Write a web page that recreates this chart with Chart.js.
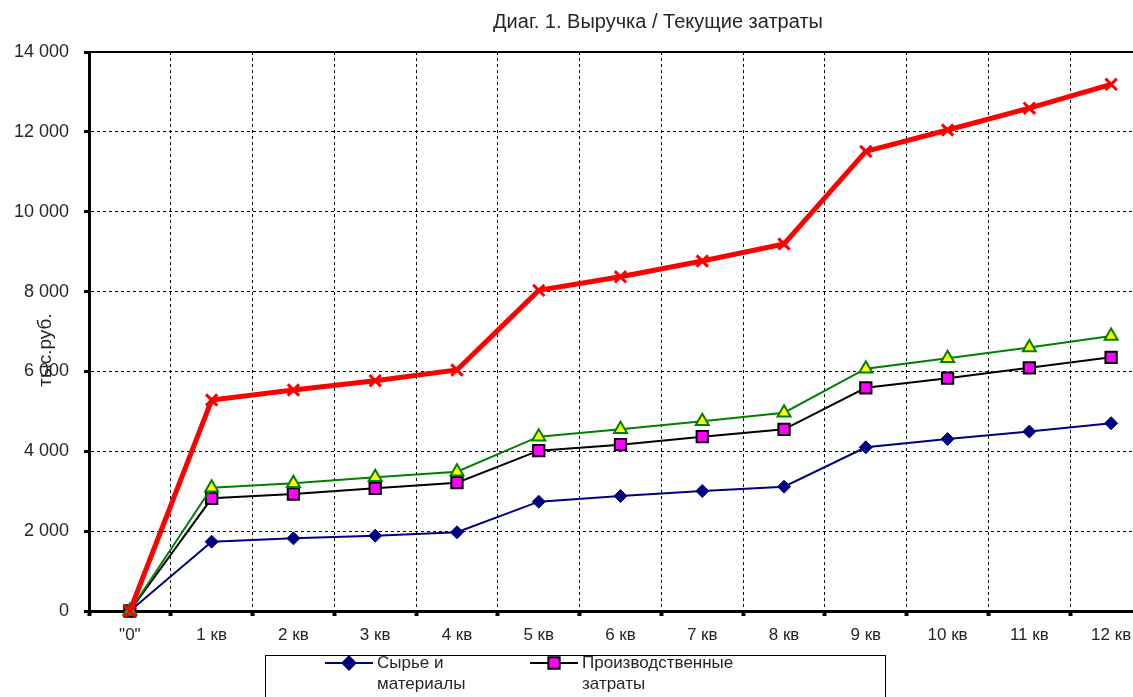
<!DOCTYPE html>
<html lang="ru">
<head>
<meta charset="utf-8">
<title>Диаг. 1. Выручка / Текущие затраты</title>
<script src="https://cdn.jsdelivr.net/npm/chart.js@4.4.1/dist/chart.umd.min.js"></script>
<style>
  html, body { margin: 0; padding: 0; background: #fff; overflow: hidden; }
  #wrap { position: relative; width: 1180px; height: 697px; }
</style>
</head>
<body>
<div id="wrap"><canvas id="chart" width="1180" height="697"></canvas></div>
<script>
// Quarters on the horizontal axis
const categories = ['"0"', '1 кв', '2 кв', '3 кв', '4 кв', '5 кв', '6 кв', '7 кв', '8 кв', '9 кв', '10 кв', '11 кв', '12 кв'];

// Cumulative values, thousand roubles
const rawMaterials = [0, 1736, 1820, 1886, 1971, 2738, 2880, 3005, 3113, 4100, 4308, 4495, 4703];
const productionCosts = [0, 2822, 2930, 3073, 3213, 4015, 4165, 4366, 4551, 5590, 5830, 6090, 6354];
const currentCosts = [0, 3088, 3198, 3348, 3489, 4366, 4551, 4751, 4967, 6070, 6329, 6600, 6887];
const revenue = [0, 5284, 5535, 5768, 6036, 8030, 8370, 8766, 9192, 11510, 12046, 12593, 13190];

// Value axis ticks
const yTicks = [0, 2000, 4000, 6000, 8000, 10000, 12000, 14000];

const chartTitle = 'Диаг. 1. Выручка / Текущие затраты';
const yAxisTitle = 'тыс.руб.';
const seriesNames = {
  rawMaterials: ['Сырье и', 'материалы'],
  productionCosts: ['Производственные', 'затраты'],
  currentCosts: ['Текущие затраты'],
  revenue: ['Выручка']
};

const FONT = '"Liberation Sans", Arial, sans-serif';
const TEXT = '#262626';

const fmt = v => String(v).replace(/\B(?=(\d{3})+(?!\d))/g, ' ');

// Title, rotated axis title and the framed legend below the axis
const decorations = {
  id: 'decorations',
  afterDraw(chart) {
    const ctx = chart.ctx;
    const area = chart.chartArea;
    ctx.save();
    ctx.fillStyle = TEXT;
    ctx.font = '20px ' + FONT;
    ctx.textAlign = 'center';
    ctx.textBaseline = 'middle';
    ctx.fillText(chartTitle, 658, 22);

    ctx.save();
    ctx.font = '19px ' + FONT;
    ctx.translate(46, 350);
    ctx.rotate(-Math.PI / 2);
    ctx.fillText(yAxisTitle, 0, 0);
    ctx.restore();

    // solid frame line along the top of the plot
    ctx.strokeStyle = '#000';
    ctx.lineWidth = 2;
    ctx.beginPath();
    ctx.moveTo(area.left, area.top);
    ctx.lineTo(area.right, area.top);
    ctx.stroke();

    // legend box
    ctx.lineWidth = 1;
    ctx.strokeStyle = '#000';
    ctx.strokeRect(265.5, 655.5, 620, 90);

    const entries = [
      { ds: chart.data.datasets[3], x: 325, y: 663, lines: seriesNames.rawMaterials },
      { ds: chart.data.datasets[2], x: 530, y: 663, lines: seriesNames.productionCosts },
      { ds: chart.data.datasets[1], x: 325, y: 710, lines: seriesNames.currentCosts },
      { ds: chart.data.datasets[0], x: 530, y: 710, lines: seriesNames.revenue }
    ];
    entries.forEach(e => {
      const ds = e.ds;
      ctx.save();
      ctx.strokeStyle = ds.borderColor;
      ctx.lineWidth = ds.borderWidth;
      ctx.beginPath();
      ctx.moveTo(e.x, e.y);
      ctx.lineTo(e.x + 48, e.y);
      ctx.stroke();
      ctx.fillStyle = ds.pointBackgroundColor;
      ctx.strokeStyle = ds.pointBorderColor;
      Chart.helpers.drawPoint(ctx, {
        pointStyle: ds.pointStyle,
        radius: ds.pointRadius,
        borderWidth: ds.pointBorderWidth,
        rotation: 0
      }, e.x + 24, e.y);
      ctx.restore();
      ctx.fillStyle = TEXT;
      ctx.font = '17px ' + FONT;
      ctx.textAlign = 'left';
      ctx.textBaseline = 'middle';
      e.lines.forEach((t, i) => ctx.fillText(t, e.x + 52, e.y + i * 21));
    });
    ctx.restore();
  }
};

new Chart(document.getElementById('chart'), {
  type: 'line',
  data: {
    labels: categories,
    datasets: [
      {
        label: 'Выручка',
        data: revenue,
        borderColor: '#ff0000',
        borderWidth: 5,
        pointStyle: 'crossRot',
        pointRadius: 8,
        pointBorderWidth: 3,
        pointBackgroundColor: '#ff0000',
        pointBorderColor: '#ff0000',
        order: 0
      },
      {
        label: 'Текущие затраты',
        data: currentCosts,
        borderColor: '#008000',
        borderWidth: 2,
        pointStyle: 'triangle',
        pointRadius: 7.5,
        pointBorderWidth: 2,
        pointBackgroundColor: '#ffff00',
        pointBorderColor: '#008000',
        order: 1
      },
      {
        label: 'Производственные затраты',
        data: productionCosts,
        borderColor: '#000000',
        borderWidth: 2,
        pointStyle: 'rect',
        pointRadius: 8,
        pointBorderWidth: 2,
        pointBackgroundColor: '#ff00ff',
        pointBorderColor: '#000000',
        order: 2
      },
      {
        label: 'Сырье и материалы',
        data: rawMaterials,
        borderColor: '#000080',
        borderWidth: 2,
        pointStyle: 'rectRot',
        pointRadius: 6.5,
        pointBorderWidth: 1,
        pointBackgroundColor: '#000080',
        pointBorderColor: '#000080',
        order: 3
      }
    ].map(d => Object.assign({ tension: 0, fill: false, clip: false, pointHoverRadius: d.pointRadius }, d))
  },
  options: {
    responsive: false,
    animation: false,
    events: [],
    layout: { padding: { left: 0, top: 52, right: 28, bottom: 0 } },
    plugins: {
      legend: { display: false },
      title: { display: false },
      tooltip: { enabled: false }
    },
    scales: {
      x: {
        offset: true,
        afterFit(scale) { scale.height = 86; },
        grid: {
          offset: true,
          color: '#000',
          lineWidth: 1,
          drawTicks: true,
          tickLength: 5,
          tickWidth: 4,
          tickColor: '#000',
          tickBorderDash: []
        },
        border: { display: true, color: '#000', width: 3, dash: [3, 3] },
        ticks: {
          color: TEXT,
          font: { family: FONT, size: 17 },
          padding: 9,
          maxRotation: 0,
          autoSkip: false
        }
      },
      y: {
        min: 0,
        max: 14000,
        afterFit(scale) { scale.width = 89; },
        afterBuildTicks(scale) { scale.ticks = yTicks.map(v => ({ value: v })); },
        grid: {
          color: '#000',
          lineWidth: 1,
          drawTicks: true,
          tickLength: 5,
          tickWidth: 3,
          tickColor: '#000',
          tickBorderDash: []
        },
        border: {
          display: true,
          color: '#000',
          width: 3,
          dash: c => (c.tick && c.tick.value === 14000) ? [] : [3, 3]
        },
        ticks: {
          color: TEXT,
          font: { family: FONT, size: 18 },
          padding: 15,
          callback: v => fmt(v)
        }
      }
    }
  },
  plugins: [decorations]
});
</script>
</body>
</html>
